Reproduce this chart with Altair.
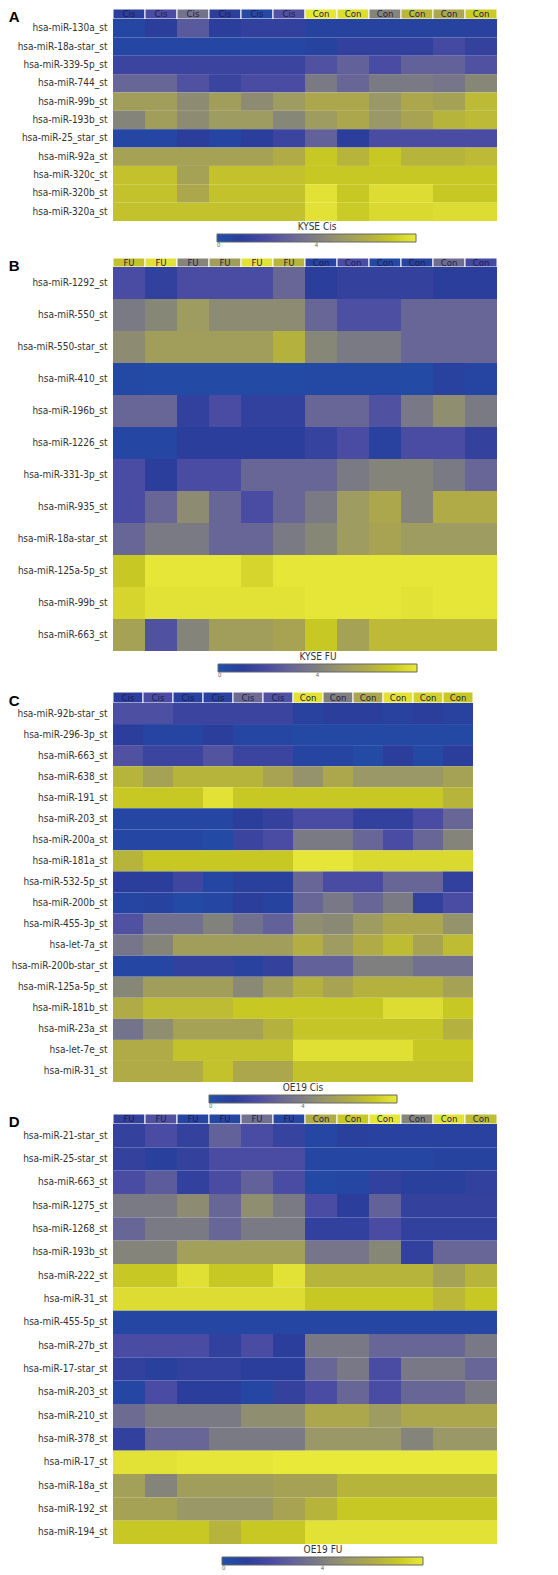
import altair as alt
import pandas as pd

FONT = "DejaVu Sans Condensed, DejaVu Sans, sans-serif"

# ---------------- Panel A : KYSE Cis ----------------
A_rows = ["hsa-miR-130a_st", "hsa-miR-18a-star_st", "hsa-miR-339-5p_st", "hsa-miR-744_st",
          "hsa-miR-99b_st", "hsa-miR-193b_st", "hsa-miR-25_star_st", "hsa-miR-92a_st",
          "hsa-miR-320c_st", "hsa-miR-320b_st", "hsa-miR-320a_st"]
A_heads = ["Cis", "Cis", "Cis", "Cis", "Cis", "Cis", "Con", "Con", "Con", "Con", "Con", "Con"]
A_head_vals = [1.0, 2.0, 3.5, 1.0, 0.4, 2.2, 7.9, 7.6, 4.2, 6.4, 5.8, 7.1]
A_vals = [
    [0.5, 1.0, 2.5, 1.0, 1.2, 1.2, 0.7, 0.7, 0.7, 0.7, 0.7, 0.8],
    [0.5, 0.5, 0.5, 0.5, 0.5, 0.5, 0.7, 1.2, 1.2, 1.2, 1.8, 1.3],
    [1.5, 1.5, 1.5, 1.5, 1.5, 1.5, 2.2, 2.8, 2.0, 2.8, 2.8, 2.2],
    [3.0, 3.0, 2.2, 1.5, 2.0, 2.0, 3.8, 3.0, 3.8, 3.8, 3.6, 4.3],
    [5.3, 5.3, 4.5, 5.3, 4.5, 5.2, 5.8, 5.8, 5.0, 5.8, 5.5, 6.5],
    [4.2, 5.3, 4.5, 5.2, 5.2, 4.3, 5.2, 5.8, 5.0, 5.6, 6.3, 6.5],
    [0.5, 0.5, 1.0, 0.6, 1.0, 1.5, 2.8, 1.0, 2.0, 2.0, 2.0, 2.0],
    [5.5, 5.5, 5.5, 5.5, 5.5, 6.0, 7.0, 6.3, 7.0, 6.3, 6.3, 6.5],
    [6.8, 6.8, 5.5, 6.8, 6.8, 6.8, 7.0, 7.0, 7.0, 7.0, 7.0, 7.0],
    [6.8, 6.8, 5.8, 6.8, 6.8, 6.8, 7.8, 7.0, 7.6, 7.6, 7.0, 7.0],
    [6.8, 6.8, 6.8, 6.8, 6.8, 6.8, 7.8, 7.1, 7.5, 7.5, 7.6, 7.6],
]

# ---------------- Panel B : KYSE FU ----------------
B_rows = ["hsa-miR-1292_st", "hsa-miR-550_st", "hsa-miR-550-star_st", "hsa-miR-410_st",
          "hsa-miR-196b_st", "hsa-miR-1226_st", "hsa-miR-331-3p_st", "hsa-miR-935_st",
          "hsa-miR-18a-star_st", "hsa-miR-125a-5p_st", "hsa-miR-99b_st", "hsa-miR-663_st"]
B_heads = ["FU", "FU", "FU", "FU", "FU", "FU", "Con", "Con", "Con", "Con", "Con", "Con"]
B_head_vals = [6.8, 7.8, 4.2, 5.3, 7.8, 6.3, 0.6, 2.0, 0.4, 0.7, 3.3, 1.8]
B_vals = [
    [2.0, 1.2, 2.0, 2.0, 2.0, 3.0, 1.0, 1.3, 1.3, 1.3, 1.0, 1.0],
    [3.8, 4.3, 5.2, 4.5, 4.5, 4.5, 3.0, 2.1, 2.1, 3.0, 3.0, 3.0],
    [4.5, 5.3, 5.3, 5.3, 5.3, 6.2, 4.3, 3.8, 3.8, 3.0, 3.0, 3.0],
    [0.4, 0.3, 0.3, 0.3, 0.3, 0.3, 0.4, 0.4, 0.4, 0.3, 0.8, 0.6],
    [3.0, 3.0, 1.2, 2.0, 1.2, 1.2, 3.0, 3.0, 2.2, 3.7, 4.6, 3.8],
    [0.5, 0.5, 1.0, 1.0, 1.0, 1.0, 1.4, 2.0, 0.8, 2.0, 2.0, 1.3],
    [2.0, 1.0, 2.0, 2.0, 3.0, 3.0, 3.0, 3.8, 4.2, 4.2, 3.8, 3.0],
    [2.0, 3.0, 4.5, 3.0, 2.0, 3.0, 3.8, 5.2, 5.8, 4.2, 6.0, 6.0],
    [3.0, 3.8, 3.8, 3.0, 3.0, 3.8, 4.3, 5.2, 5.6, 5.2, 5.2, 5.2],
    [7.0, 7.9, 7.9, 7.9, 7.4, 7.9, 7.9, 7.9, 7.9, 7.9, 7.9, 7.9],
    [7.4, 7.8, 7.8, 7.8, 7.8, 7.8, 7.9, 7.9, 7.9, 7.8, 7.9, 7.9],
    [5.5, 2.2, 4.2, 5.3, 5.3, 5.6, 7.0, 5.5, 6.5, 6.5, 6.5, 6.5],
]

# ---------------- Panel C : OE19 Cis ----------------
C_rows = ["hsa-miR-92b-star_st", "hsa-miR-296-3p_st", "hsa-miR-663_st", "hsa-miR-638_st",
          "hsa-miR-191_st", "hsa-miR-203_st", "hsa-miR-200a_st", "hsa-miR-181a_st",
          "hsa-miR-532-5p_st", "hsa-miR-200b_st", "hsa-miR-455-3p_st", "hsa-let-7a_st",
          "hsa-miR-200b-star_st", "hsa-miR-125a-5p_st", "hsa-miR-181b_st", "hsa-miR-23a_st",
          "hsa-let-7e_st", "hsa-miR-31_st"]
C_heads = ["Cis", "Cis", "Cis", "Cis", "Cis", "Cis", "Con", "Con", "Con", "Con", "Con", "Con"]
C_head_vals = [1.0, 2.0, 0.8, 0.8, 3.2, 2.2, 7.8, 4.0, 5.8, 7.8, 7.3, 7.0]
C_vals = [
    [2.1, 2.1, 1.5, 1.5, 1.5, 1.5, 0.8, 1.0, 1.0, 0.8, 1.0, 0.8],
    [1.0, 0.6, 0.6, 1.0, 0.5, 0.5, 0.4, 0.4, 0.4, 0.4, 0.4, 0.4],
    [2.2, 1.5, 1.5, 2.3, 1.5, 1.5, 0.6, 0.6, 0.3, 1.0, 0.4, 1.0],
    [6.3, 5.5, 6.3, 6.3, 6.3, 5.6, 4.8, 5.8, 5.0, 5.0, 5.0, 5.5],
    [7.0, 7.0, 7.0, 7.8, 7.0, 7.0, 7.0, 7.0, 7.0, 7.0, 7.0, 6.3],
    [0.5, 0.5, 0.5, 0.5, 1.0, 1.3, 2.0, 2.0, 1.2, 1.2, 2.0, 3.0],
    [0.5, 0.5, 0.5, 0.3, 1.5, 2.0, 3.8, 3.8, 3.0, 2.0, 3.0, 4.2],
    [6.3, 7.0, 7.0, 7.0, 7.0, 7.0, 7.9, 7.9, 7.5, 7.5, 7.5, 7.5],
    [1.0, 1.0, 1.6, 0.5, 0.9, 0.9, 3.0, 2.0, 2.0, 3.0, 3.0, 1.2],
    [0.6, 0.7, 0.3, 0.5, 1.0, 0.7, 3.0, 3.7, 3.0, 3.8, 1.2, 2.0],
    [2.2, 3.4, 3.4, 4.1, 3.4, 2.8, 4.6, 4.4, 5.2, 5.8, 5.8, 4.8],
    [3.6, 4.2, 5.3, 5.3, 5.3, 5.3, 6.1, 5.2, 6.0, 6.6, 5.6, 6.6],
    [0.5, 0.5, 1.2, 1.2, 0.8, 1.3, 2.8, 2.8, 4.0, 4.0, 3.4, 3.4],
    [4.3, 5.3, 5.3, 5.3, 4.4, 5.3, 6.2, 5.6, 6.2, 6.2, 6.2, 5.5],
    [6.0, 6.6, 6.6, 6.6, 7.0, 7.0, 7.0, 7.0, 7.0, 7.6, 7.6, 7.0],
    [3.5, 4.6, 5.5, 5.5, 5.5, 6.2, 6.9, 6.9, 6.9, 6.9, 6.9, 6.2],
    [6.0, 6.0, 6.8, 6.8, 6.8, 6.8, 7.7, 7.7, 7.7, 7.7, 7.0, 7.0],
    [6.0, 6.0, 6.0, 6.8, 5.8, 5.8, 6.8, 6.8, 6.8, 6.8, 6.8, 6.8],
]

# ---------------- Panel D : OE19 FU ----------------
D_rows = ["hsa-miR-21-star_st", "hsa-miR-25-star_st", "hsa-miR-663_st", "hsa-miR-1275_st",
          "hsa-miR-1268_st", "hsa-miR-193b_st", "hsa-miR-222_st", "hsa-miR-31_st",
          "hsa-miR-455-5p_st", "hsa-miR-27b_st", "hsa-miR-17-star_st", "hsa-miR-203_st",
          "hsa-miR-210_st", "hsa-miR-378_st", "hsa-miR-17_st", "hsa-miR-18a_st",
          "hsa-miR-192_st", "hsa-miR-194_st"]
D_heads = ["FU", "FU", "FU", "FU", "FU", "FU", "Con", "Con", "Con", "Con", "Con", "Con"]
D_head_vals = [1.2, 2.2, 0.6, 0.5, 3.4, 0.5, 6.0, 7.0, 7.9, 4.2, 7.8, 6.6]
D_vals = [
    [1.3, 2.0, 1.3, 2.8, 2.0, 1.4, 0.5, 0.9, 0.8, 0.8, 0.8, 0.8],
    [1.3, 0.9, 1.3, 2.0, 2.0, 2.0, 0.5, 0.5, 0.5, 0.5, 0.7, 0.7],
    [2.0, 2.6, 1.2, 2.0, 2.8, 2.0, 0.4, 0.5, 1.2, 0.9, 0.9, 1.2],
    [3.8, 3.8, 4.5, 3.0, 4.6, 3.8, 2.0, 1.0, 2.8, 1.3, 1.3, 1.3],
    [3.0, 3.8, 3.8, 3.0, 3.8, 3.8, 1.2, 1.2, 2.0, 1.2, 1.2, 1.2],
    [4.2, 4.2, 5.4, 5.4, 5.4, 5.4, 3.6, 3.6, 4.3, 1.2, 3.0, 3.0],
    [7.0, 7.0, 7.7, 7.0, 7.0, 7.8, 6.3, 6.3, 6.3, 6.3, 5.5, 6.3],
    [7.6, 7.6, 7.6, 7.6, 7.6, 7.6, 7.0, 7.0, 7.0, 7.0, 6.4, 7.0],
    [0.5, 0.5, 0.5, 0.5, 0.5, 0.5, 0.5, 0.5, 0.5, 0.5, 0.5, 0.5],
    [2.0, 2.0, 2.0, 1.2, 2.0, 1.0, 3.7, 3.7, 3.0, 3.0, 3.0, 3.7],
    [1.2, 0.9, 1.2, 1.2, 1.0, 1.0, 3.0, 3.7, 2.0, 3.7, 3.7, 3.0],
    [0.5, 2.0, 1.0, 1.0, 0.5, 1.3, 2.0, 3.0, 2.0, 3.0, 3.0, 3.8],
    [3.2, 3.8, 3.8, 3.8, 4.6, 4.6, 5.8, 5.8, 5.2, 5.8, 5.8, 5.8],
    [1.2, 3.0, 3.0, 3.8, 3.8, 3.8, 5.0, 5.0, 5.0, 4.2, 5.0, 5.0],
    [7.8, 7.8, 7.9, 7.9, 7.9, 8.0, 8.0, 8.0, 8.0, 8.0, 8.0, 8.0],
    [5.4, 4.2, 5.3, 5.3, 5.3, 5.5, 5.5, 6.3, 6.3, 6.3, 6.3, 6.3],
    [5.5, 5.5, 5.0, 5.0, 5.0, 5.6, 6.3, 7.0, 7.0, 7.0, 7.0, 7.0],
    [7.0, 7.0, 7.0, 6.3, 7.0, 7.0, 7.8, 7.8, 7.8, 7.8, 7.8, 7.8],
]

# colour scale (blue - grey - yellow)
SCALE_DOMAIN = [0, 1, 2, 3, 4, 5, 6, 7, 8]
SCALE_COLORS = ["#1f50aa", "#2b3e9c", "#4a4ca3", "#686697", "#7f7f80",
                "#9a9866", "#b0ab46", "#c8c825", "#e9e93a"]


def cscale():
    return alt.Scale(domain=SCALE_DOMAIN, range=SCALE_COLORS, interpolate="rgb")


def col_ids(n):
    return [f"c{i + 1:02d}" for i in range(n)]


def header(letter, heads, vals, width, band, top):
    df = pd.DataFrame({"col": col_ids(len(heads)), "label": heads, "v": vals, "panel": letter})
    base = alt.Chart(df).encode(
        x=alt.X("col:N", axis=None, scale=alt.Scale(paddingInner=0, paddingOuter=0)),
        y=alt.Y("panel:N", scale=alt.Scale(paddingInner=0, paddingOuter=0,
                                           range=[top, top + band]),
                axis=alt.Axis(title=None, domain=False, ticks=False, tickSize=0,
                              labelFont="Liberation Sans, Arial, sans-serif",
                              labelFontSize=15, labelFontWeight="bold", labelColor="black",
                              labelPadding=94, labelOffset=3)),
    )
    rect = base.mark_rect(stroke="white", strokeWidth=1).encode(
        color=alt.Color("v:Q", scale=cscale(), legend=None))
    text = base.mark_text(font=FONT, fontSize=9.5, color="#1c1c48", baseline="middle").encode(
        text="label:N")
    return alt.layer(rect, text).properties(width=width, height=top + band)


def heat(rows, vals, width, height, title, lx, lwidth):
    recs = []
    cols = col_ids(len(vals[0]))
    for r, rowvals in zip(rows, vals):
        for c, v in zip(cols, rowvals):
            recs.append({"row": r, "col": c, "v": v})
    df = pd.DataFrame(recs)
    return alt.Chart(df).mark_rect().encode(
        x=alt.X("col:N", axis=None, scale=alt.Scale(paddingInner=0, paddingOuter=0)),
        y=alt.Y("row:N", sort=rows, scale=alt.Scale(paddingInner=0, paddingOuter=0),
                axis=alt.Axis(title=None, domain=False, ticks=False, tickSize=0,
                              labelPadding=6, labelFont=FONT, labelFontSize=10,
                              labelColor="#333333", labelLimit=0)),
        color=alt.Color("v:Q", scale=cscale(),
                        legend=alt.Legend(type="gradient", orient="none",
                                          legendX=lx, legendY=height + 1,
                                          direction="horizontal", title=title,
                                          titleAnchor="middle", titleFont=FONT,
                                          titleFontSize=10, titleFontWeight="normal",
                                          titleColor="#333333", titlePadding=2,
                                          gradientLength=lwidth, gradientThickness=8,
                                          gradientStrokeColor="#666666",
                                          gradientStrokeWidth=1, values=[0, 4],
                                          labelFont=FONT, labelFontSize=6,
                                          labelColor="#666666", labelOffset=0)),
    ).properties(width=width, height=height)


hA = header("A", A_heads, A_head_vals, 384, 10, 0)
mA = heat(A_rows, A_vals, 384, 202, "KYSE Cis", 104, 199)
hB = header("B", B_heads, B_head_vals, 384, 9, 37)
mB = heat(B_rows, B_vals, 384, 384, "KYSE FU", 105, 199)
hC = header("C", C_heads, C_head_vals, 360, 11, 41)
mC = heat(C_rows, C_vals, 360, 379, "OE19 Cis", 96, 188)
hD = header("D", D_heads, D_head_vals, 384, 10, 32)
mD = heat(D_rows, D_vals, 384, 420, "OE19 FU", 109, 201)

chart = alt.vconcat(hA, mA, hB, mB, hC, mC, hD, mD, spacing=0, bounds="flush").resolve_scale(
    color="independent", x="independent", y="independent"
).properties(padding=0).configure_view(stroke=None)

chart.save("out.html", embed_options={"renderer": "svg", "actions": False})
